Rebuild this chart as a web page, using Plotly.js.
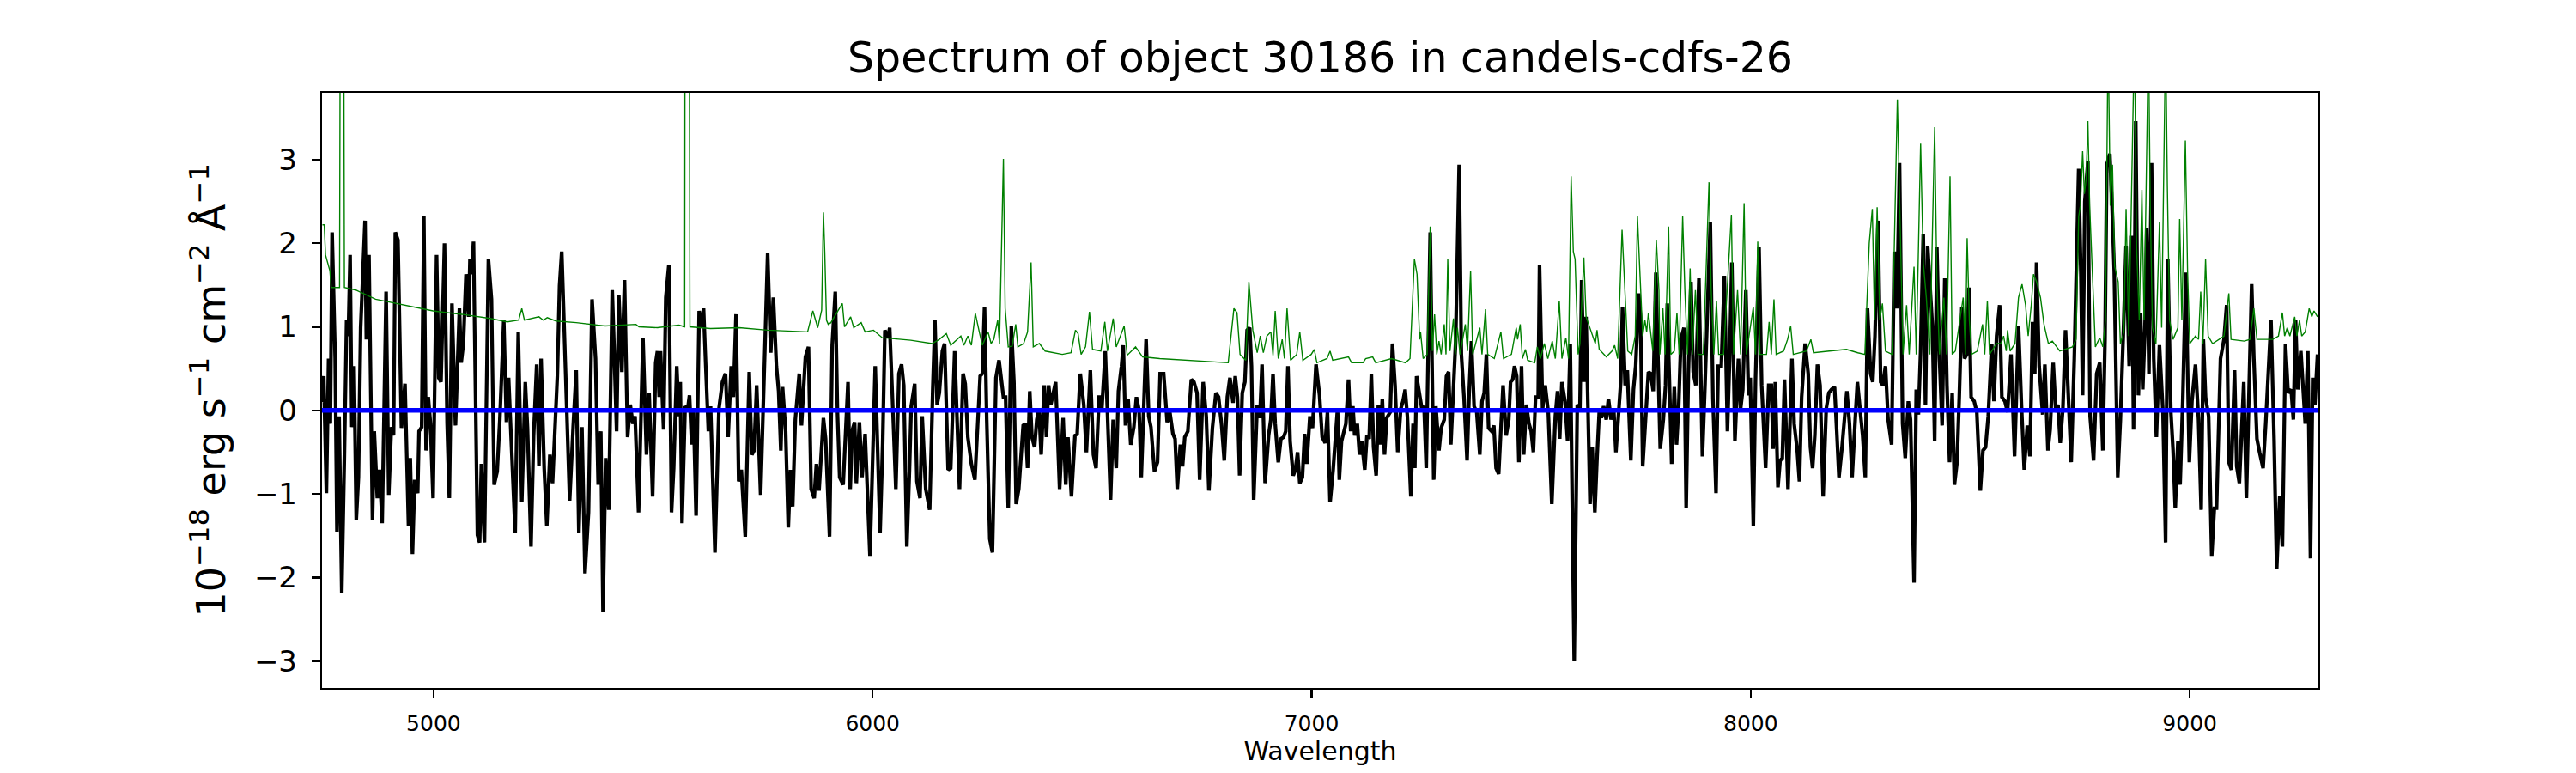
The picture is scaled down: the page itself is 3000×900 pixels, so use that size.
<!DOCTYPE html>
<html>
<head>
<meta charset="utf-8">
<script src="https://cdn.plot.ly/plotly-3.0.1.min.js"></script>
<style>
  html, body { margin: 0; padding: 0; background: #fff; }
  #plot { width: 3000px; height: 900px; }
</style>
</head>
<body>
<div id="plot"></div>
<script>
const PLOT_ID = 'plot';

const TITLE = 'Spectrum of object 30186 in candels-cdfs-26';
const X_LABEL = 'Wavelength';
const Y_LABEL = '10<sup>\u221218</sup> erg s<sup>\u22121</sup> cm<sup>\u22122</sup> \u00c5<sup>\u22121</sup>';

const X_RANGE = [4746, 9293];
const Y_RANGE = [-3.32, 3.80];
const X_TICKS = [5000, 6000, 7000, 8000, 9000];
const Y_TICKS = [-3, -2, -1, 0, 1, 2, 3];

// observed flux (black)
const fluxWave = [
  4747, 4750, 4756, 4761, 4765, 4769, 4776, 4780, 4785, 4791, 4797, 4802, 4806, 4810, 4814, 4819, 4824, 4829, 4834, 4839,
  4844, 4847, 4853, 4861, 4865, 4872, 4877, 4883, 4892, 4898, 4904, 4909, 4913, 4919, 4927, 4935, 4943, 4947, 4952, 4957,
  4964, 4967, 4973, 4978, 4983, 4988, 4993, 4999, 5007, 5012, 5017, 5025, 5031, 5036, 5042, 5050, 5059, 5063, 5068, 5074,
  5080, 5083, 5087, 5091, 5100, 5105, 5109, 5116, 5125, 5132, 5138, 5145, 5151, 5160, 5166, 5171, 5179, 5186, 5193, 5201,
  5209, 5214, 5222, 5228, 5235, 5240, 5245, 5252, 5258, 5265, 5271, 5276, 5282, 5287, 5292, 5297, 5302, 5310, 5318, 5325,
  5331, 5338, 5345, 5353, 5361, 5369, 5375, 5381, 5386, 5392, 5399, 5407, 5412, 5417, 5422, 5429, 5435, 5442, 5448, 5454,
  5459, 5467, 5477, 5485, 5491, 5499, 5506,
  5510, 5514, 5517, 5524, 5529, 5536, 5542, 5547, 5554, 5559, 5562, 5566, 5573, 5579, 5583, 5588, 5592, 5598, 5605, 5610,
  5615, 5620, 5626, 5631, 5641, 5650, 5658, 5665, 5671, 5678, 5683, 5689, 5695, 5701, 5710, 5719, 5725, 5730, 5736, 5745,
  5753, 5761, 5768, 5774, 5781, 5786, 5791, 5795, 5802, 5808, 5813, 5818, 5824, 5833, 5838, 5847, 5854, 5860, 5867, 5872,
  5878, 5888, 5893, 5902, 5908, 5915, 5920, 5925, 5933, 5944, 5949, 5954, 5959, 5963, 5970, 5976, 5983, 5994, 6006, 6017,
  6023, 6028, 6035, 6039, 6044, 6053, 6060, 6066, 6071, 6078, 6084, 6088, 6096, 6101, 6108, 6113, 6121, 6130, 6137, 6142,
  6147, 6152, 6159, 6164, 6172, 6178, 6187, 6198, 6206, 6211, 6217, 6225, 6233, 6238, 6245, 6250, 6255, 6260, 6267,
  6273, 6281, 6288, 6293, 6298, 6303, 6309, 6316, 6322, 6327, 6333, 6343, 6348, 6353, 6358, 6363, 6369, 6374, 6379, 6384,
  6391, 6396, 6401, 6406, 6417, 6426, 6434, 6440, 6445, 6453, 6461, 6466, 6473, 6481, 6487, 6496, 6503, 6509, 6516, 6522,
  6530, 6542, 6548, 6555, 6560, 6567, 6571, 6576, 6582, 6588, 6595, 6601, 6607, 6612, 6623, 6629, 6634, 6642, 6649, 6655,
  6663, 6671, 6677, 6684, 6689, 6694, 6701, 6706, 6711, 6718, 6726, 6732, 6739, 6745, 6753, 6760, 6766, 6774, 6782, 6788,
  6795, 6801, 6808, 6814, 6821, 6826, 6831, 6836, 6842, 6848, 6853, 6859, 6863, 6868, 6876, 6882, 6887, 6894, 6902, 6907,
  6912, 6917, 6924, 6930, 6936, 6941, 6946, 6951, 6958, 6963, 6968, 6973, 6979, 6984, 6989, 6996, 7002, 7010, 7018, 7024,
  7031, 7036, 7042, 7049, 7054, 7059, 7063, 7068, 7078, 7084, 7089, 7094, 7098, 7104, 7109, 7114, 7121, 7126, 7131, 7136,
  7141, 7147, 7152, 7156, 7161, 7166, 7171, 7179, 7184, 7190, 7196, 7203, 7208, 7213, 7218, 7226, 7231, 7235, 7239, 7246,
  7251, 7256, 7261, 7270, 7278, 7283, 7290, 7295, 7302, 7307, 7312, 7317, 7323, 7328, 7336, 7341, 7347, 7354, 7359, 7364,
  7370, 7376, 7383, 7388, 7393, 7398, 7403, 7410, 7415, 7420, 7426, 7431, 7436, 7443, 7449, 7453, 7458, 7462, 7467, 7472,
  7478, 7483, 7489, 7495, 7500, 7505, 7510, 7516, 7519, 7526, 7532, 7539, 7547, 7555, 7560, 7565, 7570, 7577, 7583, 7589,
  7598, 7605, 7611, 7615, 7620, 7625, 7630, 7634, 7639, 7645, 7650, 7655, 7660, 7665, 7671, 7676, 7682, 7688, 7693, 7699,
  7704, 7708, 7714, 7719, 7727, 7733, 7738, 7745, 7749, 7754, 7761, 7767, 7772, 7778, 7784, 7789, 7794,
  7801, 7806, 7810, 7815, 7820, 7826, 7831, 7836, 7841, 7848, 7853, 7858, 7864, 7869, 7875, 7882, 7890, 7896, 7903, 7908,
  7914, 7921, 7926, 7933, 7940, 7947, 7952, 7957, 7964, 7972, 7977, 7982, 7989, 7995, 7999, 8006, 8011, 8019, 8025, 8034,
  8041, 8047, 8051, 8056, 8062, 8067, 8072, 8077, 8085, 8094, 8099, 8106, 8111, 8116, 8124, 8131, 8136, 8141, 8146, 8152,
  8158, 8165, 8172, 8178, 8184, 8191, 8196, 8201, 8208, 8213, 8219, 8225, 8231, 8238, 8243, 8248, 8255, 8261, 8266, 8273,
  8278, 8283, 8290, 8296, 8301, 8307, 8313, 8321, 8327, 8333, 8339, 8346, 8352, 8359, 8364, 8372, 8377, 8382, 8387, 8393,
  8398, 8403, 8408, 8414, 8419, 8424, 8430, 8436, 8442, 8447, 8453, 8459, 8464, 8470, 8475, 8481, 8487, 8492, 8497, 8502,
  8509, 8515, 8523, 8529, 8535, 8541, 8549, 8554,
  8560, 8567, 8572, 8579, 8585, 8593, 8601, 8610, 8617, 8623, 8630, 8636, 8642, 8647, 8651, 8657, 8665, 8670, 8677, 8682,
  8689, 8695, 8700, 8705, 8711, 8717, 8724, 8730, 8737, 8742, 8747, 8752, 8756, 8761, 8768, 8773, 8781, 8788, 8795, 8802,
  8807, 8811, 8818, 8823, 8828, 8836, 8842, 8849, 8855, 8862, 8868, 8872, 8877, 8883, 8888, 8893, 8898, 8902, 8907, 8913,
  8918, 8924, 8931, 8939, 8945, 8950, 8957, 8962, 8967, 8973, 8978, 8984, 8991, 8999, 9005, 9013, 9020, 9026, 9031, 9036,
  9043, 9050, 9056, 9061, 9070, 9078, 9084, 9089, 9095, 9102, 9107, 9113, 9123, 9129, 9136, 9141, 9146, 9153, 9159, 9167,
  9173, 9180, 9185, 9192, 9198, 9205, 9211, 9218, 9224, 9231, 9236, 9241, 9246, 9253, 9258, 9263, 9269, 9275, 9280, 9285,
  9291
];
const flux = [
  0.10, 0.41, -0.99, 0.62, -0.16, 2.13, 0.62, -1.45, -0.07, -2.18, -0.53, 1.08, 0.89, 1.86, -0.20, 0.53, -1.31, -0.80, 0.99, 1.54,
  2.27, 0.85, 1.86, -1.31, -0.25, -1.05, -0.71, -1.35, 1.42, -1.01, -0.20, -0.30, 2.13, 2.04, -0.21, 0.32, -1.38, -0.57, -1.72, -0.83,
  -0.99, -0.25, -0.20, 2.32, -0.48, 0.16, -0.16, -1.05, 1.86, 0.39, 0.34, 2.00, -0.16, -1.05, 1.28, -0.18, 1.22, 0.57, 0.80, 1.63,
  1.12, 1.81, 1.63, 2.02, -1.49, -1.58, -0.64, -1.58, 1.81, 1.33, -0.89, -0.73, -0.11, 1.08, -0.14, 0.39, -0.71, -1.47, 0.94, -1.10,
  0.34, -0.20, -1.63, -0.30, 0.55, -0.67, 0.62, -0.69, -1.38, -0.53, -0.87, -0.34, 0.41, 1.49, 1.90, 1.08, 0.25, -1.08, -0.20, 0.48,
  -1.47, -0.20, -1.95, -1.22, 1.33, 0.62, -0.89, -0.25, -2.41, -0.57, -1.19, 1.44, 0.62, -0.25, 1.38, 0.46, 1.56, -0.32, 0.07, -0.16,
  -0.07, -1.22, 0.87, -0.53, 0.21, -1.03, 0.57,
  0.71, 0.16, 0.71, -0.23, 1.35, 1.74, -1.22, -0.69, 0.53, -0.07, 0.34, -1.35, 0.05, 0.02, 0.18, -0.41, 0.02, -1.26, 1.19, 0.99,
  1.22, 0.53, -0.25, 0.05, -1.70, 0.02, 0.34, 0.44, -0.32, 0.53, 0.16, 1.15, -0.85, -0.71, -1.51, 0.46, -0.53, -0.48, 0.30, -1.01,
  0.48, 1.88, 0.69, 1.35, 0.53, 0.23, -0.48, 0.28, -0.25, -1.40, -0.71, -1.15, -0.11, 0.44, -0.18, 0.64, 0.76, -0.94, -1.05, -0.64,
  -0.96, -0.09, -0.34, -1.51, 0.78, 1.42, -0.02, -0.80, -0.89, 0.34, -0.94, -0.23, -0.14, -0.87, -0.14, -0.80, -0.28, -1.74, 0.53, -1.47,
  -0.39, 0.96, 0.87, 0.99, 0.32, -0.94, 0.44, 0.55, 0.30, -1.63, -0.71, 0.05, 0.32, -0.85, -1.05, -0.07, -0.94, -1.19, 0.25, 1.08,
  0.07, 0.21, 0.71, 0.80, -0.71, -0.69, 0.71, -0.94, 0.44, 0.32, -0.32, -0.64, -0.83, -0.25, 0.41, 0.44, 1.24, -0.11, -1.54,
  -1.70, 0.39, 0.60, 0.34, 0.16, 0.16, -1.17, 1.01, 0.34, -1.12, -0.94, -0.18, -0.16, -0.69, 0.23, -0.32, -0.44, -0.11, 0.02, -0.53,
  0.30, -0.32, 0.30, 0.07, 0.34, -0.94, -0.09, -0.89, -0.32, -1.03, -0.30, -0.28, 0.44, 0.07, -0.50, 0.48, -0.53, -0.69, 0.18, 0.00,
  0.71, -1.07, -0.11, -0.69, 0.23, 0.53, 0.78, -0.18, 0.14, -0.41, -0.20, 0.16, 0.00, -0.80, 0.85, -0.07, -0.20, -0.73, -0.62, 0.44,
  0.44, -0.14, -0.02, -0.28, -0.34, -0.94, -0.41, -0.67, -0.32, -0.25, 0.37, 0.34, 0.21, -0.83, 0.34, -0.07, -0.96, -0.21, 0.21, 0.16,
  -0.18, -0.60, 0.16, 0.39, 0.09, 0.41, 0.16, -0.78, 0.21, 0.34, 0.96, 0.99, 0.53, -1.07, 0.07, -0.09, 0.55, -0.87, -0.30, -0.11,
  0.44, -0.16, -0.62, -0.34, -0.32, -0.25, 0.53, -0.37, -0.78, -0.71, -0.50, -0.87, -0.80, -0.28, -0.64, -0.07, -0.21, 0.55, 0.18, -0.32,
  -0.39, -0.02, -1.10, -0.71, -0.30, 0.02, -0.83, -0.37, -0.16, 0.37, -0.25, 0.05, -0.30, -0.16, -0.53, -0.37, -0.71, -0.30, -0.34, 0.44,
  -0.44, -0.78, 0.07, -0.41, 0.14, -0.53, -0.09, -0.02, 0.80, 0.30, -0.50, 0.02, 0.11, 0.25, -0.07, -1.03, -0.16, -0.69, 0.41, 0.21,
  0.02, 0.05, -0.69, 2.13, -0.83, 0.05, -0.48, -0.21, -0.11, 0.41, 0.46, -0.41, 0.21, 0.83, 2.94, 0.67, 0.16, -0.60, 0.25, 0.83,
  0.05, -0.02, -0.53, 0.11, 0.21, 0.67, -0.21, -0.25, -0.18, -0.69, -0.76, -0.16, 0.30, -0.30, -0.11, 0.34, 0.37, 0.53, 0.41, -0.62,
  0.53, -0.53, 0.07, -0.16, -0.25, -0.50, 0.16, 0.16, 1.74, 0.02, 0.30, -0.02, -1.12, -0.07, 0.23, -0.34, 0.34, 0.11, -0.37, 0.80,
  -3.00, 0.07, 0.02, 1.56, 0.34, 1.12, -0.46, -1.12, -0.44, -1.22, -0.57, -0.02, -0.09, 0.05, -0.11, 0.14, -0.11, 0.02, -0.50, -0.07,
  0.34, 1.24, 0.30, 0.48, -0.60, 0.25, 0.53, 1.40, 1.12, -0.67, -0.07, 0.46, 0.44, 0.23, 1.65, 0.67, -0.46,
  -0.11, 0.30, 1.28, 0.16, -0.64, 0.28, -0.41, 0.05, 0.85, 0.99, -1.17, 0.44, 1.54, 0.46, 0.30, 1.58, -0.55, 0.32, 1.44, 2.25,
  0.14, -0.99, 0.53, 0.53, 1.61, -0.25, 0.62, 1.77, -0.37, 0.62, 0.02, 0.25, 1.44, 0.18, 0.39, -1.38, 0.37, 1.95, 0.30, -0.69,
  0.30, 0.30, -0.46, 0.34, -0.92, -0.60, -0.57, 0.37, -0.94, 0.62, -0.16, -0.48, -0.85, 0.16, 0.80, 0.44, -0.44, -0.69, -0.30, 0.55,
  0.30, -1.03, 0.02, 0.21, 0.25, 0.28, -0.25, -0.80, -0.44, -0.11, 0.23, -0.16, -0.80, -0.11, 0.34, 0.07, -0.30, -0.80, 1.22, 0.44,
  0.34, 0.89, 2.27, 0.34, 0.30, 0.53, -0.11, -0.41, 1.90, 1.22, 2.96, -0.16, -0.57, 0.11, -0.11, -2.06, 0.25, -0.05, 0.71, 2.11,
  0.07, 1.97, 1.58, 0.99, -0.37, 1.95, 0.62, -0.18, 1.58, 0.30, -0.62, 0.21, -0.89, -0.62, 0.16, 1.24, 0.62, 0.67, 1.47, 0.16,
  0.11, -0.02, -0.96, -0.48, -0.44, -0.07, 0.80, 0.11,
  0.89, 1.26, 0.16, 0.11, -0.02, 0.67, -0.55, 1.01, 0.02, -0.71, -0.18, -0.55, 1.06, 0.44, 1.77, 0.53, -0.05, 0.55, -0.48, -0.23,
  0.57, -0.02, 0.07, -0.39, 0.02, 0.96, 0.11, -0.62, 0.62, 1.58, 2.89, 1.63, 0.18, 2.50, 2.98, -0.07, -0.60, 0.44, 0.57, -0.48,
  0.85, 2.94, 3.07, 2.45, 1.67, -0.80, -0.11, 0.96, 1.97, 0.53, 2.09, -0.23, 3.46, 0.18, 1.17, 0.25, 0.99, 2.18, 0.44, 2.96,
  0.62, -0.32, 0.78, -0.02, -1.58, 1.81, -0.02, -0.48, -1.17, -0.37, -0.89, 0.11, 1.65, -0.62, 0.11, 0.55, -0.11, -1.19, 0.85, 0.16,
  -0.07, -1.74, -1.17, -1.17, 0.62, 0.85, 1.26, -0.62, -0.71, 0.48, -0.67, -0.87, 0.34, -1.05, 0.44, 1.51, 0.62, -0.34, -0.50, -0.69,
  -0.16, 0.62, 1.08, -0.34, -1.90, -1.03, -1.63, 0.80, 0.21, 0.25, -0.11, 1.08, 0.25, 0.71, 0.28, -0.16, 0.71, -1.77, 0.39, 0.07,
  0.67
];

// noise / sky spectrum (green)
const noiseWave = [
  4747, 4751, 4754, 4764, 4767, 4786, 4788, 4795, 4797, 4823, 4868, 4934, 4999, 5064, 5129, 5168, 5194, 5201, 5207, 5240,
  5250, 5259, 5279, 5325, 5390, 5461, 5468, 5510, 5559, 5572, 5573, 5582, 5584, 5631, 5696, 5761, 5852, 5864, 5875, 5884,
  5888, 5891, 5895, 5899, 5905, 5931, 5936, 5950, 5957, 5974, 5983, 6002, 6022, 6087, 6136, 6152, 6168, 6178, 6201, 6208,
  6217, 6225, 6234, 6243, 6250, 6263,
  6270, 6276, 6285, 6289, 6298, 6302, 6309, 6318, 6326, 6331, 6344, 6353, 6361, 6366, 6380, 6393, 6432, 6452, 6462, 6468,
  6475, 6485, 6494, 6501, 6520, 6529, 6535, 6548, 6555, 6573, 6580, 6599, 6615, 6654, 6719, 6810, 6823, 6830, 6837, 6850,
  6857, 6866, 6876, 6883, 6890, 6898, 6907, 6912, 6917, 6924, 6933, 6938, 6944, 6952, 6966, 6973, 6980, 6999, 7006, 7012,
  7035,
  7042, 7048, 7084, 7091, 7117, 7123, 7139, 7146, 7182, 7214, 7224, 7234, 7240, 7246, 7248, 7254, 7263, 7270, 7275, 7280,
  7285, 7290, 7295, 7302, 7306, 7310, 7315, 7323, 7327, 7332, 7338, 7350, 7355, 7362, 7367, 7383, 7388, 7396, 7401, 7416,
  7423, 7431, 7437, 7455, 7466, 7469, 7475, 7480, 7487, 7492, 7508, 7514, 7521, 7530, 7538, 7548, 7555, 7564, 7570, 7579,
  7585, 7591, 7596, 7600, 7607, 7611, 7620, 7625, 7631, 7641, 7646, 7650, 7655, 7671, 7684, 7690, 7697, 7707, 7712, 7716,
  7720, 7729, 7737, 7742, 7748, 7754, 7759, 7763, 7767, 7772, 7777, 7785, 7791,
  7793, 7800, 7805, 7813, 7818, 7826, 7832, 7837, 7845, 7850, 7856, 7862, 7867, 7874, 7880, 7892, 7905, 7910, 7916, 7922,
  7927, 7938, 7956, 7961, 7970, 7977, 7985, 7990, 8006, 8011, 8016, 8021, 8036, 8042, 8047, 8053, 8058, 8075, 8084, 8091,
  8097, 8127, 8137, 8143, 8179, 8218, 8244, 8260, 8270, 8277, 8282, 8288, 8294, 8300, 8307, 8322, 8334, 8341, 8347, 8355,
  8361, 8372, 8377, 8387, 8393, 8400, 8408, 8419, 8424, 8430, 8440, 8446, 8454, 8459, 8466, 8484, 8489, 8493, 8498, 8503,
  8516, 8528, 8533, 8539, 8544, 8560,
  8570, 8576, 8582, 8585, 8591, 8602, 8610, 8618, 8626, 8632, 8639, 8644, 8651, 8660, 8668, 8678, 8687, 8704, 8733, 8741,
  8747, 8751, 8756, 8760, 8764, 8768, 8772, 8778, 8785, 8795, 8802, 8808, 8814, 8819, 8824, 8829, 8837, 8842, 8850, 8855,
  8861, 8866, 8874, 8879, 8885, 8891, 8896, 8906, 8910, 8915, 8923, 8931, 8936, 8945, 8949, 8954, 8962, 8973, 8977, 8982,
  8990, 8995, 9000, 9013, 9020, 9025, 9030, 9036, 9042, 9052, 9078, 9089, 9094, 9124, 9137, 9146, 9153, 9189, 9202, 9211,
  9216, 9222, 9228, 9239, 9244, 9250, 9255, 9263, 9272, 9278, 9283, 9291
];
const noise = [
  2.22, 2.22, 1.86, 1.67, 1.47, 1.47, 6.00, 6.00, 1.47, 1.44, 1.33, 1.26, 1.19, 1.15, 1.10, 1.06, 1.08, 1.22, 1.08, 1.12,
  1.08, 1.11, 1.07, 1.05, 1.01, 1.03, 1.00, 0.99, 1.02, 1.00, 6.00, 6.00, 1.00, 0.98, 0.99, 0.96, 0.94, 1.19, 0.99, 1.20,
  2.37, 1.90, 1.08, 1.03, 1.05, 1.28, 1.00, 1.12, 0.99, 1.05, 0.94, 0.96, 0.87, 0.84, 0.80, 0.85, 0.92, 0.78, 0.89, 0.78,
  0.89, 0.78, 1.16, 0.94, 0.78, 0.94,
  0.80, 0.85, 1.08, 0.80, 3.01, 1.22, 0.76, 0.77, 1.03, 0.76, 0.80, 0.94, 1.77, 0.76, 0.80, 0.71, 0.67, 0.69, 0.96, 0.92,
  0.67, 0.76, 1.18, 0.73, 0.71, 1.06, 0.71, 1.10, 0.76, 1.01, 0.66, 0.76, 0.64, 0.62, 0.60, 0.57, 1.22, 1.17, 0.67, 0.60,
  1.54, 0.96, 0.69, 0.89, 0.69, 0.89, 0.94, 0.66, 1.19, 0.62, 0.85, 0.62, 1.22, 0.60, 0.67, 0.94, 0.60, 0.67, 0.73, 0.57,
  0.62,
  0.71, 0.60, 0.64, 0.57, 0.57, 0.62, 0.64, 0.57, 0.62, 0.57, 0.62, 1.81, 1.63, 0.85, 0.94, 0.62, 0.67, 2.20, 0.71, 1.15,
  0.67, 0.83, 0.67, 1.03, 0.67, 1.81, 0.71, 1.10, 0.67, 0.99, 0.67, 1.03, 0.71, 1.67, 0.67, 0.99, 0.67, 1.21, 0.67, 0.62,
  0.76, 0.94, 0.62, 0.67, 0.99, 0.85, 1.03, 0.62, 0.73, 0.60, 0.57, 0.76, 0.62, 0.80, 0.62, 0.83, 0.62, 1.31, 0.62, 0.87,
  0.62, 2.80, 1.90, 1.81, 0.67, 0.80, 1.83, 1.12, 1.03, 0.89, 0.80, 0.96, 0.73, 0.64, 0.71, 0.78, 0.62, 2.16, 1.54, 1.03,
  0.71, 0.67, 0.89, 2.32, 1.54, 0.89, 1.08, 0.94, 1.17, 0.94, 0.71, 2.04, 1.44,
  0.67, 1.22, 0.67, 2.20, 0.67, 0.71, 1.17, 0.67, 2.32, 1.44, 0.67, 1.70, 0.67, 1.44, 0.67, 0.67, 2.73, 1.44, 0.67, 1.31,
  0.67, 0.67, 2.34, 0.67, 1.44, 0.67, 2.48, 0.67, 1.24, 0.67, 2.02, 0.67, 0.67, 1.06, 0.67, 1.33, 0.67, 0.71, 0.85, 1.01,
  0.67, 0.71, 0.85, 0.69, 0.71, 0.73, 0.69, 0.67, 2.00, 2.41, 1.08, 2.43, 1.08, 1.28, 0.71, 0.67, 3.72, 1.95, 0.67, 1.26,
  0.67, 1.72, 0.67, 3.19, 1.77, 1.35, 0.67, 3.39, 1.54, 0.67, 1.35, 0.67, 2.80, 0.67, 0.71, 1.35, 0.67, 2.06, 1.08, 0.67,
  0.71, 1.03, 0.67, 1.31, 0.67, 0.80,
  0.80, 0.89, 0.71, 0.96, 0.71, 0.80, 1.35, 1.51, 1.26, 0.89, 1.26, 1.63, 1.54, 1.35, 1.03, 0.80, 0.83, 0.71, 0.76, 0.85,
  2.32, 2.45, 3.10, 2.59, 2.77, 3.46, 2.45, 1.67, 0.76, 0.87, 0.76, 1.08, 4.50, 2.45, 2.94, 1.72, 1.54, 0.80, 0.94, 2.41,
  0.89, 2.18, 4.50, 1.95, 1.08, 2.64, 1.08, 4.50, 2.45, 0.99, 0.80, 2.25, 0.99, 4.50, 2.68, 1.08, 0.85, 0.99, 2.29, 1.08,
  3.23, 1.67, 0.80, 0.89, 0.85, 1.42, 0.80, 1.81, 0.89, 0.80, 0.89, 1.40, 0.85, 0.83, 0.85, 1.22, 0.85, 0.85, 0.89, 1.17,
  0.89, 0.99, 0.89, 1.12, 0.89, 1.08, 0.89, 0.94, 1.22, 1.12, 1.19, 1.12
];

// model (blue)
const modelWave = [4746, 9293];
const model = [0, 0];

const getBaseLayout = () => ({
    width: 3000,
    height: 900,
    paper_bgcolor: '#ffffff',
    plot_bgcolor: '#ffffff',
    font: { family: 'DejaVu Sans, sans-serif', color: '#000000' },
    margin: { t: 108, b: 99, l: 375, r: 300, pad: 0 },
    showlegend: false,
    title: {
        text: TITLE,
        font: { size: 49, color: '#000000' },
        x: 0.5, xref: 'paper', xanchor: 'center',
        y: 1 - 67 / 900, yref: 'container', yanchor: 'middle'
    },
    xaxis: {
        range: X_RANGE,
        tickvals: X_TICKS,
        ticktext: X_TICKS.map(String),
        tickfont: { size: 25, color: '#000000' },
        ticks: 'outside', ticklen: 10, tickwidth: 2.2, tickcolor: '#000000',
        ticklabelstandoff: 8,
        showline: true, mirror: true, linecolor: '#000000', linewidth: 2.2,
        showgrid: false, zeroline: false,
        title: { text: X_LABEL, font: { size: 30, color: '#000000' }, standoff: 6 },
        automargin: false
    },
    yaxis: {
        range: Y_RANGE,
        tickvals: Y_TICKS,
        ticktext: Y_TICKS.map(v => (v < 0 ? '\u2212' + Math.abs(v) : String(v))),
        tickfont: { size: 34, color: '#000000' },
        ticks: 'outside', ticklen: 10, tickwidth: 2.2, tickcolor: '#000000',
        ticklabelstandoff: 10,
        showline: true, mirror: true, linecolor: '#000000', linewidth: 2.2,
        showgrid: false, zeroline: false,
        automargin: false
    },
    annotations: [{
        text: Y_LABEL,
        xref: 'paper', yref: 'paper',
        x: (242 - 375) / 2325, y: 0.5,
        xanchor: 'center', yanchor: 'middle',
        textangle: -90,
        showarrow: false,
        font: { size: 46, color: '#000000' }
    }],
    hovermode: false,
    dragmode: false
});

function initPlot() {
    const traces = [
        {
            x: fluxWave, y: flux,
            mode: 'lines', type: 'scatter',
            line: { color: '#000000', width: 4.2 },
            name: 'Flux', hoverinfo: 'none'
        },
        {
            x: noiseWave, y: noise,
            mode: 'lines', type: 'scatter',
            line: { color: '#008000', width: 1.4 },
            name: 'Noise', hoverinfo: 'none'
        },
        {
            x: modelWave, y: model,
            mode: 'lines', type: 'scatter',
            line: { color: '#0000ff', width: 5.5 },
            name: 'Model', hoverinfo: 'none'
        }
    ];
    Plotly.newPlot(PLOT_ID, traces, getBaseLayout(), { displayModeBar: false, staticPlot: true });
}

initPlot();
</script>
</body>
</html>
